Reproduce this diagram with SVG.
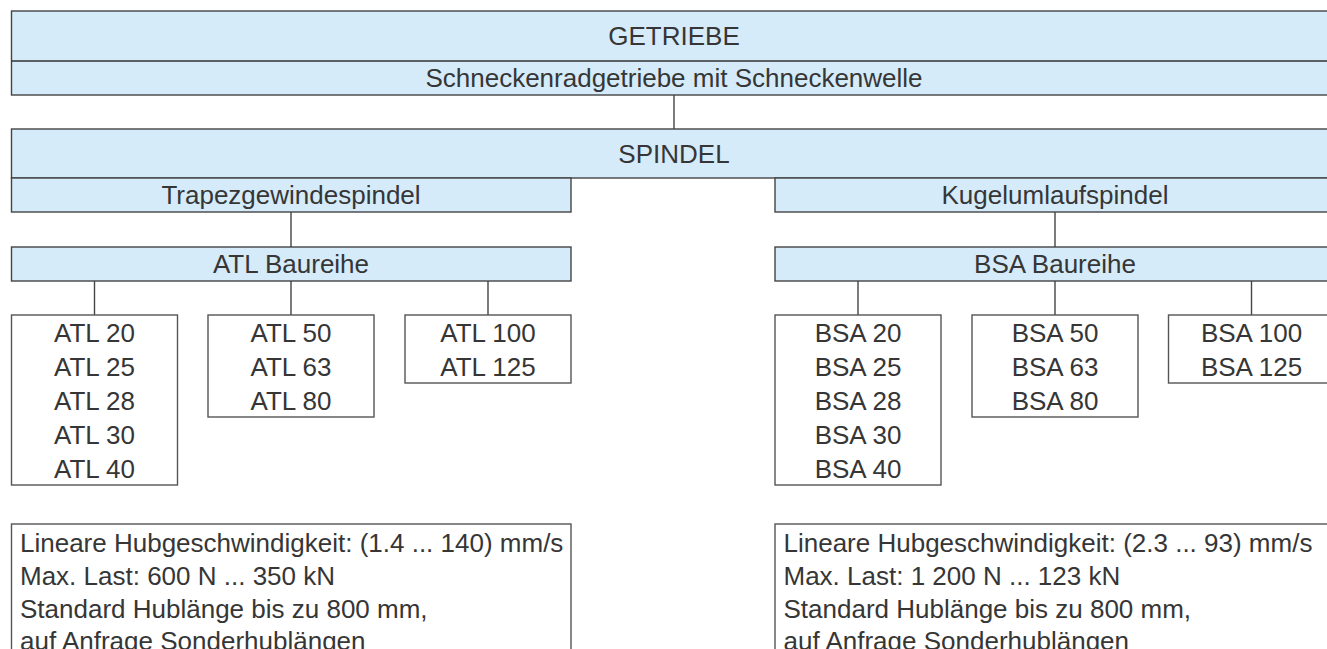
<svg xmlns="http://www.w3.org/2000/svg" width="1327" height="649" viewBox="0 0 1327 649">
<style>
.b{fill:#d5ebfa;stroke:#444;stroke-width:1.4}
.w{fill:#fff;stroke:#555;stroke-width:1.4}
.d{stroke:#333;stroke-width:1.4;fill:none}
text{font-family:"Liberation Sans",Arial,sans-serif;font-size:26px;fill:#363636}
.c{text-anchor:middle}
.cn line{stroke:#444;stroke-width:1.4}
</style>
<rect width="1327" height="649" fill="#fff"/>
<g class="cn" id="connectors">
<line x1="674" y1="95" x2="674" y2="129"/>
<line x1="291" y1="212" x2="291" y2="247"/>
<line x1="1055" y1="212" x2="1055" y2="247"/>
<line x1="94.5" y1="281" x2="94.5" y2="315"/>
<line x1="291" y1="281" x2="291" y2="315"/>
<line x1="488" y1="281" x2="488" y2="315"/>
<line x1="858" y1="281" x2="858" y2="315"/>
<line x1="1055" y1="281" x2="1055" y2="315"/>
<line x1="1251.5" y1="281" x2="1251.5" y2="315"/>
</g>
<g id="getriebe">
<rect class="b" x="11.5" y="11" width="1323" height="84"/>
<line class="d" x1="11.5" y1="61" x2="1334.5" y2="61"/>
<text class="c" x="674" y="45">GETRIEBE</text>
<text class="c" x="674" y="87">Schneckenradgetriebe mit Schneckenwelle</text>
</g>
<g id="spindel">
<rect class="b" x="11.5" y="129" width="1323" height="49"/>
<text class="c" x="674" y="163">SPINDEL</text>
</g>
<g id="trapez">
<rect class="b" x="11.5" y="178" width="559.5" height="34"/>
<text class="c" x="291" y="204">Trapezgewindespindel</text>
</g>
<g id="kugel">
<rect class="b" x="775" y="178" width="559.5" height="34"/>
<text class="c" x="1055" y="204">Kugelumlaufspindel</text>
</g>
<g id="atl">
<rect class="b" x="11.5" y="247" width="559.5" height="34"/>
<text class="c" x="291" y="273">ATL Baureihe</text>
</g>
<g id="bsa">
<rect class="b" x="775" y="247" width="559.5" height="34"/>
<text class="c" x="1055" y="273">BSA Baureihe</text>
</g>
<g id="atl20">
<rect class="w" x="11.5" y="315" width="166" height="170"/>
<text class="c" x="94.5" y="342">ATL 20</text>
<text class="c" x="94.5" y="376">ATL 25</text>
<text class="c" x="94.5" y="410">ATL 28</text>
<text class="c" x="94.5" y="444">ATL 30</text>
<text class="c" x="94.5" y="478">ATL 40</text>
</g>
<g id="atl50">
<rect class="w" x="208" y="315" width="166" height="102"/>
<text class="c" x="291" y="342">ATL 50</text>
<text class="c" x="291" y="376">ATL 63</text>
<text class="c" x="291" y="410">ATL 80</text>
</g>
<g id="atl100">
<rect class="w" x="405" y="315" width="166" height="68"/>
<text class="c" x="488" y="342">ATL 100</text>
<text class="c" x="488" y="376">ATL 125</text>
</g>
<g id="bsa20">
<rect class="w" x="775" y="315" width="166" height="170"/>
<text class="c" x="858" y="342">BSA 20</text>
<text class="c" x="858" y="376">BSA 25</text>
<text class="c" x="858" y="410">BSA 28</text>
<text class="c" x="858" y="444">BSA 30</text>
<text class="c" x="858" y="478">BSA 40</text>
</g>
<g id="bsa50">
<rect class="w" x="972" y="315" width="166" height="102"/>
<text class="c" x="1055" y="342">BSA 50</text>
<text class="c" x="1055" y="376">BSA 63</text>
<text class="c" x="1055" y="410">BSA 80</text>
</g>
<g id="bsa100">
<rect class="w" x="1168.5" y="315" width="166" height="68"/>
<text class="c" x="1251.5" y="342">BSA 100</text>
<text class="c" x="1251.5" y="376">BSA 125</text>
</g>
<g id="info-atl">
<rect class="w" x="11.5" y="524" width="559.5" height="140"/>
<text x="20" y="552">Lineare Hubgeschwindigkeit: (1.4 ... 140) mm/s</text>
<text x="20" y="585">Max. Last: 600 N ... 350 kN</text>
<text x="20" y="618">Standard Hublänge bis zu 800 mm,</text>
<text x="20" y="650">auf Anfrage Sonderhublängen</text>
</g>
<g id="info-bsa">
<rect class="w" x="775" y="524" width="559.5" height="140"/>
<text x="783.5" y="552">Lineare Hubgeschwindigkeit: (2.3 ... 93) mm/s</text>
<text x="783.5" y="585">Max. Last: 1 200 N ... 123 kN</text>
<text x="783.5" y="618">Standard Hublänge bis zu 800 mm,</text>
<text x="783.5" y="650">auf Anfrage Sonderhublängen</text>
</g>
</svg>
